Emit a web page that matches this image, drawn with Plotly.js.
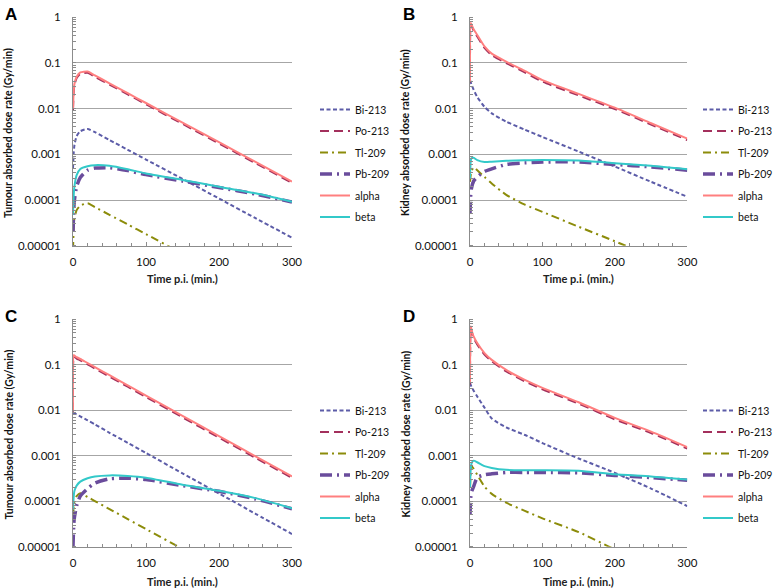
<!DOCTYPE html>
<html>
<head>
<meta charset="utf-8">
<script src="https://cdn.plot.ly/plotly-3.0.1.min.js"></script>
<style>html,body{margin:0;padding:0;background:#fff;}#chart{width:778px;height:588px;}</style>
</head>
<body>
<div id="chart"></div>
<script>
// Time points (min p.i.)
const time = [0, 1, 2, 5, 10, 20, 30, 50, 75, 100, 150, 200, 250, 300];
const seriesNames = ["Bi-213", "Po-213", "Tl-209", "Pb-209", "alpha", "beta"];
const panelLetters = ["A", "B", "C", "D"];
const yTitles = ["Tumour absorbed dose rate (Gy/min)", "Kidney absorbed dose rate (Gy/min)",
                 "Tumour absorbed dose rate (Gy/min)", "Kidney absorbed dose rate (Gy/min)"];
const xTitle = "Time p.i. (min.)";
const yTickVals = [1, 0.1, 0.01, 0.001, 0.0001, 0.00001];
const yTickText = ["1", "0.1", "0.01", "0.001", "0.0001", "0.00001"];

// Panel A (tumour)
const A_bi    = [0.0005, 0.0011, 0.0016, 0.0025, 0.0032, 0.0036, 0.00305, 0.00206, 0.00126, 0.00077, 0.00029, 0.000108, 0.00004, 0.000015];
const A_po    = [0.0094, 0.023, 0.033, 0.047, 0.058, 0.061, 0.050, 0.0337, 0.0205, 0.0125, 0.00465, 0.00173, 0.00064, 0.000238];
const A_tl    = [0.000008, 0.000025, 0.00004, 0.00006, 0.000075, 0.000085, 0.00007, 0.0000474, 0.0000292, 0.0000179, 0.0000067, 0.0000025, 0.00000094, 0.00000035];
const A_pb    = [0.00002, 0.00006, 0.0001, 0.0002, 0.00031, 0.00045, 0.0005, 0.00051, 0.00044, 0.00036, 0.00026, 0.000188, 0.000135, 0.00009];
const A_alpha = [0.01, 0.025, 0.035, 0.05, 0.062, 0.065, 0.0533, 0.0359, 0.0218, 0.0133, 0.00495, 0.00184, 0.00068, 0.000254];
const A_beta  = [0.000047, 0.00013, 0.0002, 0.00035, 0.00048, 0.00055, 0.00058, 0.00056, 0.00047, 0.00038, 0.000275, 0.000196, 0.00014, 0.000092];

// Panel B (kidney)
const B_bi    = [0.042, 0.038, 0.034, 0.026, 0.018, 0.011, 0.0079, 0.0052, 0.0035, 0.0024, 0.00115, 0.00054, 0.00025, 0.000118];
const B_po    = [0.037, 0.70, 0.65, 0.51, 0.38, 0.214, 0.149, 0.0995, 0.063, 0.039, 0.0195, 0.0098, 0.0045, 0.00205];
const B_tl    = [0.00025, 0.00035, 0.00042, 0.00052, 0.00045, 0.00032, 0.00023, 0.00013, 0.00008, 0.000055, 0.000026, 0.0000125, 0.0000058, 0.0000027];
const B_pb    = [0.00005, 0.00013, 0.00018, 0.00026, 0.00032, 0.00042, 0.00048, 0.0006, 0.00065, 0.00068, 0.00068, 0.0006, 0.00053, 0.00045];
const B_alpha = [0.04, 0.75, 0.70, 0.55, 0.41, 0.23, 0.16, 0.107, 0.068, 0.042, 0.021, 0.0105, 0.0048, 0.0022];
const B_beta  = [0.0003, 0.0007, 0.00082, 0.00084, 0.00075, 0.00068, 0.00069, 0.00072, 0.00074, 0.00075, 0.00073, 0.00064, 0.00056, 0.00047];

// Panel C (tumour)
const C_bi    = [0.0089, 0.0087, 0.0085, 0.0081, 0.0073, 0.006, 0.0049, 0.0032, 0.00192, 0.00115, 0.00041, 0.000148, 0.000053, 0.000019];
const C_po    = [0.0093, 0.152, 0.149, 0.137, 0.125, 0.102, 0.083, 0.055, 0.0329, 0.0196, 0.007, 0.00251, 0.0009, 0.000326];
const C_tl    = [0.00005, 0.00008, 0.0001, 0.00013, 0.00015, 0.000124, 0.000101, 0.000067, 0.0000406, 0.0000244, 0.0000089, 0.0000032, 0.0000012, 0.00000042];
const C_pb    = [0.00001, 0.00003, 0.000045, 0.00008, 0.00013, 0.00019, 0.00025, 0.00031, 0.00032, 0.0003, 0.00022, 0.000165, 0.000112, 0.000068];
const C_alpha = [0.01, 0.163, 0.16, 0.147, 0.134, 0.109, 0.0888, 0.059, 0.0352, 0.0211, 0.00755, 0.0027, 0.00097, 0.00035];
const C_beta  = [0.000065, 0.00013, 0.00017, 0.00022, 0.00027, 0.00032, 0.00035, 0.00037, 0.00036, 0.00033, 0.00023, 0.00017, 0.000117, 0.00007];

// Panel D (kidney)
const D_bi    = [0.04, 0.036, 0.033, 0.027, 0.02, 0.0114, 0.0066, 0.0042, 0.0029, 0.0019, 0.00087, 0.00042, 0.00019, 0.000078];
const D_po    = [0.037, 0.65, 0.56, 0.39, 0.28, 0.167, 0.119, 0.0716, 0.0437, 0.0288, 0.014, 0.0063, 0.00316, 0.00144];
const D_tl    = [0.0002, 0.0004, 0.0006, 0.00052, 0.00038, 0.00021, 0.000145, 0.000093, 0.000062, 0.000042, 0.000021, 0.0000088, 0.0000045, 0.0000022];
const D_pb    = [0.00005, 0.00012, 0.00016, 0.00021, 0.00033, 0.00038, 0.0004, 0.00043, 0.00043, 0.00043, 0.00042, 0.00037, 0.00033, 0.00029];
const D_alpha = [0.04, 0.70, 0.60, 0.42, 0.30, 0.18, 0.128, 0.077, 0.047, 0.031, 0.015, 0.0068, 0.0034, 0.00155];
const D_beta  = [0.0002, 0.0005, 0.00067, 0.00078, 0.00072, 0.00059, 0.00054, 0.00049, 0.00048, 0.00048, 0.00047, 0.00039, 0.00035, 0.0003];

const panelData = [
  [A_bi, A_po, A_tl, A_pb, A_alpha, A_beta],
  [B_bi, B_po, B_tl, B_pb, B_alpha, B_beta],
  [C_bi, C_po, C_tl, C_pb, C_alpha, C_beta],
  [D_bi, D_po, D_tl, D_pb, D_alpha, D_beta]
];

const styles = [
  {color: "#5c5ca8", width: 2,   dash: "4px,2.5px"},
  {color: "#a3305c", width: 2,   dash: "9px,5px"},
  {color: "#8c8c0a", width: 2,   dash: "8px,4px,2px,4px"},
  {color: "#6a4c9c", width: 3.5, dash: "12px,5px,2px,5px"},
  {color: "#ff7f7f", width: 2,   dash: "solid"},
  {color: "#33c9c9", width: 2,   dash: "solid"}
];

const W = 778, H = 588;
// plot-area pixel boxes
const boxes = [
  {x0: 73,  x1: 292,   y0: 17.3,  y1: 245.7},
  {x0: 470, x1: 687.3, y0: 17.3,  y1: 245.7},
  {x0: 73,  x1: 292,   y0: 319.3, y1: 546.7},
  {x0: 470, x1: 687.3, y0: 319.3, y1: 546.7}
];
// legend anchors: left-anchored for A/C, right-anchored at page edge for B/D
const legendPos = [
  {x: 315, y: 95, anchor: "left"}, {x: 778, y: 95, anchor: "right"},
  {x: 315, y: 396, anchor: "left"}, {x: 778, y: 396, anchor: "right"}
];
const letterPos = [{x: 3, y: 3}, {x: 401, y: 3}, {x: 3, y: 305}, {x: 401, y: 305}];
const yTitleX = [8, 405, 8, 405];
const xTitleY = [278, 278, 581, 581];

const font = "Lato, 'Open Sans', sans-serif";
const traces = [];
const layout = {
  width: W, height: H,
  margin: {l: 0, r: 0, t: 0, b: 0},
  paper_bgcolor: "#fff", plot_bgcolor: "#fff",
  font: {family: font, color: "#000", size: 11},
  showlegend: true,
  annotations: []
};

panelData.forEach((arrs, p) => {
  const sfx = p === 0 ? "" : String(p + 1);
  const legName = "legend" + sfx;
  arrs.forEach((vals, i) => {
    traces.push({
      type: "scatter", mode: "lines",
      x: time, y: vals,
      name: seriesNames[i],
      xaxis: "x" + sfx, yaxis: "y" + sfx,
      legend: legName,
      legendgroup: "p" + p + "s" + i,
      line: {color: styles[i].color, width: styles[i].width, dash: styles[i].dash, shape: "spline", smoothing: 0.6},
      hoverinfo: "skip"
    });
  });
  const b = boxes[p];
  layout["xaxis" + sfx] = {
    domain: [b.x0 / W, b.x1 / W],
    anchor: "y" + sfx, automargin: false,
    range: [0, 300], dtick: 100, tick0: 0,
    showgrid: false, zeroline: false,
    showline: true, linecolor: "#8c8c8c", linewidth: 1,
    ticks: "inside", ticklen: 4, tickcolor: "#8c8c8c",
    ticklabelstandoff: 5,
    minor: {dtick: 20, ticks: "inside", ticklen: 3, tickcolor: "#8c8c8c", showgrid: false},
    tickfont: {size: 11.5, family: font, color: "#111"}
  };
  layout["yaxis" + sfx] = {
    domain: [1 - b.y1 / H, 1 - b.y0 / H],
    anchor: "x" + sfx, automargin: false,
    type: "log", range: [-5, 0],
    tickmode: "array", tickvals: yTickVals, ticktext: yTickText,
    showgrid: true, gridcolor: "#a6a6a6", gridwidth: 1,
    zeroline: false,
    showline: true, linecolor: "#8c8c8c", linewidth: 1,
    ticks: "", ticklabelstandoff: 9,
    minor: {dtick: "D1", ticks: "inside", ticklen: 3, tickcolor: "#8c8c8c", showgrid: false},
    tickfont: {size: 11.5, family: font, color: "#111"}
  };
  const lp = legendPos[p];
  layout[legName] = {
    x: lp.x / W, y: 1 - lp.y / H, xanchor: lp.anchor, yanchor: "top",
    bgcolor: "rgba(0,0,0,0)", borderwidth: 0,
    font: {size: 10.5, family: font, color: "#111"},
    tracegroupgap: 2.5, itemwidth: 30,
    traceorder: "grouped"
  };
  const lt = letterPos[p];
  layout.annotations.push({
    text: "<b>" + panelLetters[p] + "</b>", xref: "paper", yref: "paper",
    x: lt.x / W, y: 1 - lt.y / H, xanchor: "left", yanchor: "top",
    showarrow: false, font: {size: 17, family: "Liberation Sans, Arial, sans-serif", color: "#000"}
  });
  // y-axis title
  layout.annotations.push({
    text: "<b>" + yTitles[p] + "</b>", xref: "paper", yref: "paper",
    x: yTitleX[p] / W, y: 1 - ((b.y0 + b.y1) / 2 + 1.5) / H, xanchor: "center", yanchor: "middle",
    textangle: -90, showarrow: false,
    font: {size: 10.5, family: font, color: "#111"}
  });
  // x-axis title
  layout.annotations.push({
    text: "<b>" + xTitle + "</b>", xref: "paper", yref: "paper",
    x: ((b.x0 + b.x1) / 2) / W, y: 1 - xTitleY[p] / H, xanchor: "center", yanchor: "middle",
    showarrow: false,
    font: {size: 11, family: font, color: "#222"}
  });
});

Plotly.newPlot("chart", traces, layout, {displayModeBar: false, staticPlot: true});
</script>
</body>
</html>
